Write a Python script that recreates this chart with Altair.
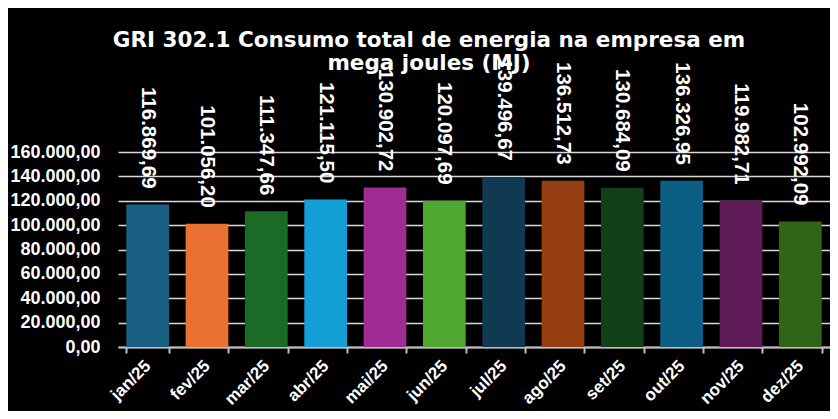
import altair as alt
import pandas as pd

# ---- data ----
months = ["jan/25", "fev/25", "mar/25", "abr/25", "mai/25", "jun/25",
          "jul/25", "ago/25", "set/25", "out/25", "nov/25", "dez/25"]
values = [116869.69, 101056.20, 111347.66, 121115.50, 130902.72, 120097.69,
          139496.67, 136512.73, 130684.09, 136326.95, 119982.71, 102992.09]
bar_colors = ["#185f82", "#e97132", "#1a6b25", "#12a0d7", "#a02b93", "#4ea72e",
              "#0f3a52", "#963f12", "#124018", "#0c5e84", "#5f1b58", "#2f6419"]
y_ticks = [0, 20000, 40000, 60000, 80000, 100000, 120000, 140000, 160000]
title_lines = ["GRI 302.1 Consumo total de energia na empresa em", "mega joules (MJ)"]


def br(v):
    s = f"{v:,.2f}"
    return s.replace(",", "_").replace(".", ",").replace("_", ".")


df = pd.DataFrame({"mes": months, "valor": values, "rotulo": [br(v) for v in values]})

FONT = "Liberation Sans"
GRID = "#d9d9d9"
AXISC = "#bfbfbf"

x = alt.X(
    "mes:N", sort=months, title=None,
    scale=alt.Scale(paddingInner=0.28, paddingOuter=0.14),
    axis=alt.Axis(labelAngle=-45, labelAlign="right", labelBaseline="middle",
                  labelColor="white", labelFont=FONT, labelFontSize=17,
                  labelFontWeight="bold", labelPadding=10, tickSize=6,
                  tickColor=AXISC, tickWidth=2, domainColor=AXISC, domainWidth=2,
                  tickBand="extent", grid=False),
)
y = alt.Y(
    "valor:Q", title=None,
    scale=alt.Scale(domain=[0, 160000], nice=False),
    axis=alt.Axis(values=y_ticks,
                  labelExpr="replace(replace(replace(format(datum.value, ',.2f'), regexp(',', 'g'), '_'), regexp('[.]', 'g'), ','), regexp('_', 'g'), '.')",
                  labelColor="white", labelFont=FONT, labelFontSize=18,
                  labelFontWeight="bold", labelPadding=18, ticks=False,
                  domain=False, grid=True, gridColor=GRID, gridWidth=1.5),
)

base = alt.Chart(df)
bars = base.mark_bar().encode(
    x=x, y=y,
    color=alt.Color("mes:N", scale=alt.Scale(domain=months, range=bar_colors), legend=None),
)
labels = base.mark_text(angle=90, align="right", baseline="middle", dx=-16,
                        color="white", font=FONT, fontSize=20.5,
                        fontWeight="bold").encode(x=x, y=y, text="rotulo:N")

chart = alt.layer(bars, labels).properties(
    width=712, height=195,
    title=alt.TitleParams(text=title_lines, color="white", font="DejaVu Sans",
                          fontSize=21.5, fontWeight="bold", anchor="middle",
                          frame="group", dx=-45, dy=20, lineHeight=23),
    background="black",
    autosize=alt.AutoSizeParams(type="none"),
    padding={"left": 110, "top": 144, "right": 0, "bottom": 64},
).configure_view(stroke=None)

chart.save("out.html", embed_options={"renderer": "svg", "actions": False})
